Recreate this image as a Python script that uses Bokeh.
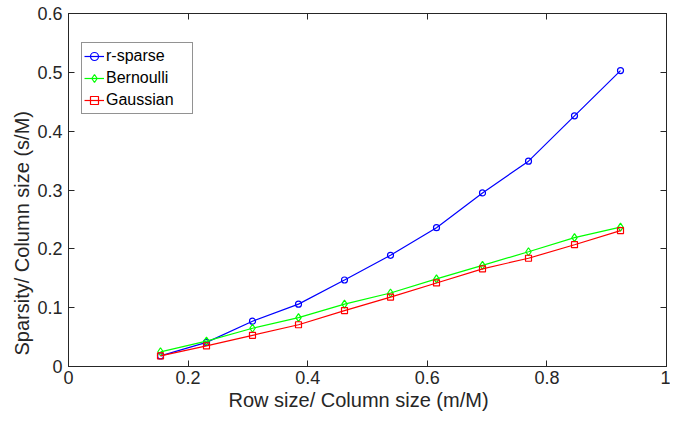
from bokeh.plotting import figure
from bokeh.models import LinearAxis, Range1d, FixedTicker, Legend, LegendItem, Title
from bokeh.embed import file_html
from bokeh.resources import INLINE

ratio = [2/13, 3/13, 4/13, 5/13, 6/13, 7/13, 8/13, 9/13, 10/13, 11/13, 12/13]
r_sparse = [0.018, 0.041, 0.077, 0.106, 0.147, 0.189, 0.236, 0.295, 0.349, 0.426, 0.503]
bernoulli = [0.025, 0.043, 0.065, 0.083, 0.106, 0.125, 0.149, 0.172, 0.195, 0.219, 0.237]
gaussian = [0.018, 0.035, 0.053, 0.071, 0.095, 0.118, 0.142, 0.166, 0.184, 0.207, 0.231]
x_ticks = [0, 0.2, 0.4, 0.6, 0.8, 1]
y_ticks = [0, 0.1, 0.2, 0.3, 0.4, 0.5, 0.6]
x_label = "Row size/ Column size (m/M)"
y_label = "Sparsity/ Column size (s/M)"

FONT = "Liberation Sans"
AX = "#262626"

p = figure(width=670, height=414, output_backend="svg", toolbar_location=None,
           x_range=Range1d(0, 1), y_range=Range1d(0, 0.6),
           min_border_left=68, min_border_right=4, min_border_top=13, min_border_bottom=48)
p.xgrid.visible = False
p.ygrid.visible = False
p.outline_line_color = AX
p.outline_line_width = 1
p.background_fill_color = "white"
p.border_fill_color = "white"

for ax, ticks in ((p.xaxis[0], x_ticks), (p.yaxis[0], y_ticks)):
    ax.ticker = FixedTicker(ticks=ticks)
    ax.major_tick_in = 6
    ax.major_tick_out = 0
    ax.minor_tick_line_color = None
    ax.axis_line_color = AX
    ax.major_tick_line_color = AX
    ax.major_label_text_font = FONT
    ax.major_label_text_font_size = "18px"
    ax.major_label_text_color = AX

p.xaxis[0].major_label_standoff = 4
p.yaxis[0].major_label_standoff = 6
p.xaxis[0].formatter.use_scientific = False

xt = Title(text=x_label, align="left", offset=160, standoff=0,
           text_font=FONT, text_font_size="20px", text_font_style="normal", text_color=AX)
p.add_layout(xt, "below")
yt = Title(text=y_label, align="left", offset=11, standoff=4,
           text_font=FONT, text_font_size="20px", text_font_style="normal", text_color=AX)
p.add_layout(yt, "left")

for loc, ticks in (("right", y_ticks), ("above", x_ticks)):
    a = LinearAxis(ticker=FixedTicker(ticks=ticks), major_tick_in=6, major_tick_out=0,
                   minor_tick_line_color=None, major_label_text_font_size="1px",
                   major_label_text_color=None,
                   major_label_overrides={t: "" for t in ticks},
                   axis_line_color=AX, major_tick_line_color=AX, major_label_standoff=0)
    p.add_layout(a, loc)

series = [("r-sparse", r_sparse, "#0000ff", "circle"),
          ("Bernoulli", bernoulli, "#00ff00", "diamond"),
          ("Gaussian", gaussian, "#ff0000", "square")]
items = []
for name, ys, col, mk in series:
    l = p.line(ratio, ys, line_color=col, line_width=1.2)
    s = p.scatter(ratio, ys, marker=mk, size=6 if mk != "diamond" else 8,
                  line_color=col, fill_color=None, line_width=1.2)
    items.append(LegendItem(label=name, renderers=[l, s]))

legend = Legend(items=items, location=(13, 252))
legend.label_text_font = FONT
legend.label_text_font_size = "16px"
legend.label_text_color = "black"
legend.border_line_color = AX
legend.border_line_width = 1
legend.glyph_width = 20
legend.glyph_height = 22
legend.label_height = 22
legend.label_width = 84
legend.label_standoff = 2
legend.spacing = 0
legend.padding = 2
legend.margin = 0
p.add_layout(legend, "center")

open("out.html", "w").write(file_html(p, INLINE))
